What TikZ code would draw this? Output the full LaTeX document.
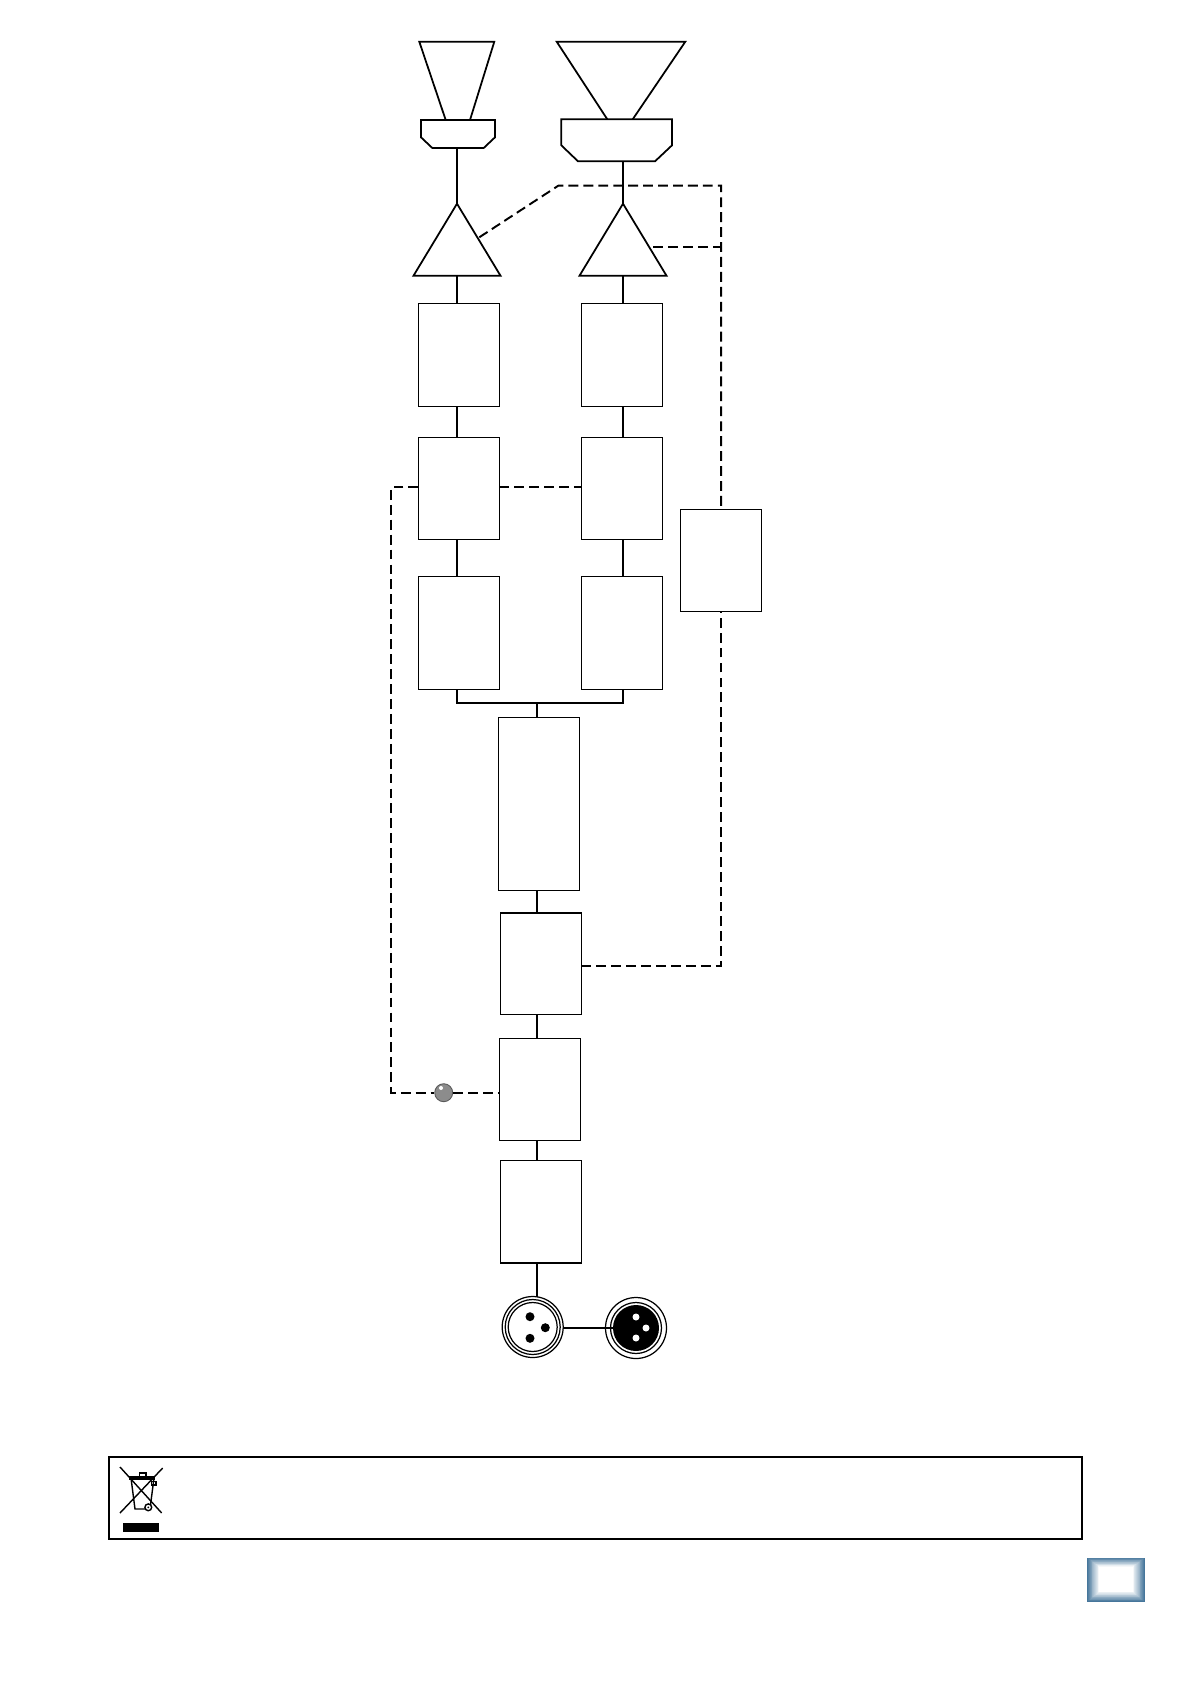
\documentclass[tikz,border=0pt]{standalone}
\usepackage{xcolor}
\usetikzlibrary{shapes,positioning}
\definecolor{tabblue}{RGB}{70,118,155}

\begin{document}
\begin{tikzpicture}[
    x=0.02cm, y=-0.02cm,
    node distance=0.62cm,
    box/.style={rectangle, draw, line width=0.7pt, inner sep=0pt, outer sep=0pt, minimum width=1.62cm},
    amp/.style={isosceles triangle, draw, line width=1pt, inner sep=0pt, outer sep=0pt, shape border rotate=90, isosceles triangle stretches, minimum width=1.74cm, minimum height=1.44cm, anchor=apex},
    horn/.style={line width=1pt, line join=miter},
    conn/.style={line width=1.1pt},
    ctrl/.style={line width=1.1pt, dash pattern=on 5.6pt off 2.9pt},
    xlr/.style={circle, draw, line width=0.7pt, inner sep=0pt, outer sep=0pt, minimum size=1.22cm},
    pin/.style={circle, fill, inner sep=0pt, minimum size=0.18cm},
    led/.style={circle, draw=black!65, line width=0.5pt, fill=black!45, inner sep=0pt, minimum size=0.36cm}
]
    \useasboundingbox (0,0) rectangle (1191,1684);

    % horns and drivers
    \draw[horn] (445.7,120) -- (419.3,41.7) -- (494.3,41.7) -- (470,120);
    \draw[horn] (421,120) -- (495,120) -- (495,137.3) -- (483.7,148) -- (432.3,148) -- (421,137.3) -- cycle;
    \draw[horn] (607.3,119.3) -- (556.7,41.7) -- (685.3,41.7) -- (632.7,119.3);
    \draw[horn] (561.3,119.3) -- (672,119.3) -- (672,145.3) -- (655,161.3) -- (578,161.3) -- (561.3,145.3) -- cycle;
    \coordinate (drvl) at (457,148);
    \coordinate (drvr) at (623,161.3);

    % amplifiers
    \node[amp] (ampl) at (457,203.7) {};
    \node[amp] (ampr) at (623,203.7) {};

    % left and right channels
    \node[box, minimum height=2.07cm] (xol) at (458.8,355) {};
    \node[box, minimum height=2.04cm, below=0.62cm of xol] (limitl) {};
    \node[box, minimum height=2.26cm, below=0.74cm of limitl] (eql) {};
    \node[box, minimum height=2.07cm, right=1.64cm of xol] (xor) {};
    \node[box, minimum height=2.04cm, below=0.62cm of xor] (limitr) {};
    \node[box, minimum height=2.26cm, below=0.74cm of limitr] (eqr) {};
    \node[box, minimum height=2.04cm] (sense) at (721.2,560.6) {};

    % middle column
    \node[box, minimum height=3.46cm] (dsp) at (538.8,803.8) {};
    \node[box, minimum height=2.03cm] (rms) at (541,963.7) {};
    \node[box, minimum height=2.034cm] (mute) at (540,1089.5) {};
    \node[box, minimum height=2.046cm] (input) at (541,1211.9) {};

    % connectors
    \coordinate (join) at (537,702.7);
    \draw[conn] (drvl) -- (ampl.apex);
    \draw[conn] (drvr) -- (ampr.apex);
    \draw[conn] (ampl.apex |- 0,275.7) -- (ampl.apex |- xol.north);
    \draw[conn] (ampr.apex |- 0,275.7) -- (ampr.apex |- xor.north);
    \draw[conn] (ampl.apex |- xol.south) -- (ampl.apex |- limitl.north);
    \draw[conn] (ampr.apex |- xor.south) -- (ampr.apex |- limitr.north);
    \draw[conn] (ampl.apex |- limitl.south) -- (ampl.apex |- eql.north);
    \draw[conn] (ampr.apex |- limitr.south) -- (ampr.apex |- eqr.north);
    \draw[conn] (ampl.apex |- eql.south) |- (join) -| (ampr.apex |- eqr.south);
    \draw[conn] (join) -- (join |- dsp.north);
    \draw[conn] (join |- dsp.south) -- (join |- rms.north);
    \draw[conn] (join |- rms.south) -- (join |- mute.north);
    \draw[conn] (join |- mute.south) -- (join |- input.north);

    % control lines
    \coordinate (tapl) at (479.3,237.3);
    \coordinate (bendl) at (558.3,185.7);
    \coordinate (corner) at (721.2,185.7);
    \coordinate (tapr) at (653.3,247);
    \coordinate (rail) at (391.3,487);
    \draw[ctrl] (tapl) -- (bendl) -- (corner) -- (sense.north);
    \draw[ctrl] (tapr) -- (tapr -| sense.north);
    \draw[ctrl] (rms.east |- 0,965.8) -| (sense.south);
    \draw[ctrl] (limitl.east |- rail) -- (limitr.west |- rail);
    \node[led] (led) at (443.7,1092.7) {};
    \fill[white] (441,1088) circle (2);
    \draw[ctrl] (limitl.west |- rail) -- (rail) |- (led);
    \draw[ctrl] (led) -- (mute.west |- led);

    % connectors at the bottom
    \node[xlr] (xlrf) at (532.7,1327) {};
    \node[xlr] (xlrm) at (636,1328) {};
    \draw[line width=0.7pt] (xlrf) circle (27.5);
    \draw[line width=0.7pt] (xlrf) circle (24.5);
    \node[pin] (pinfa) at (530,1316.7) {};
    \node[pin] (pinfb) at (545.3,1327.7) {};
    \node[pin] (pinfc) at (530,1338.3) {};
    \draw[line width=0.7pt] (xlrm) circle (25.5);
    \fill (xlrm) circle (23);
    \node[pin, fill=white, minimum size=0.14cm] (pinma) at (636,1317) {};
    \node[pin, fill=white, minimum size=0.14cm] (pinmb) at (646,1328) {};
    \node[pin, fill=white, minimum size=0.14cm] (pinmc) at (636,1338) {};
    \draw[conn] (join |- input.south) -- (join |- xlrf.north);
    \draw[conn] (xlrf.east |- xlrm) -- (xlrm.center);

    % notice box
    \node[rectangle, draw, line width=1.1pt, inner sep=0pt, outer sep=0pt, minimum width=19.46cm, minimum height=1.64cm] (notice) at (595.5,1497.7) {};
    \draw[line width=0.8pt] (120,1467) -- (161.7,1513);
    \draw[line width=0.8pt] (162.7,1468) -- (120,1513);
    \draw[line width=2pt] (129.3,1478) -- (155,1478);
    \draw[line width=0.8pt] (131,1478) -- (135,1509) -- (145,1509);
    \draw[line width=0.8pt] (154,1478) -- (150.5,1505);
    \draw[line width=0.6pt] (139.3,1473) rectangle (146,1476.5);
    \draw[line width=0.6pt] (151.7,1481.7) rectangle (156,1485);
    \draw[line width=0.8pt] (148.3,1507.3) circle (3.4);
    \fill (148.3,1507.3) circle (1);
    \fill (123,1523.3) rectangle (159,1531.7);

    % page tab
    \foreach \i in {0,...,14} {
        \pgfmathsetmacro{\f}{\i/14}
        \pgfmathsetmacro{\shade}{100*(1-\f)^1.1}
        \fill[tabblue!\shade!white] (1087.3+12*\f,1557.7+9*\f) rectangle (1144.7-12*\f,1601.7-10*\f);
    }
\end{tikzpicture}
\end{document}
